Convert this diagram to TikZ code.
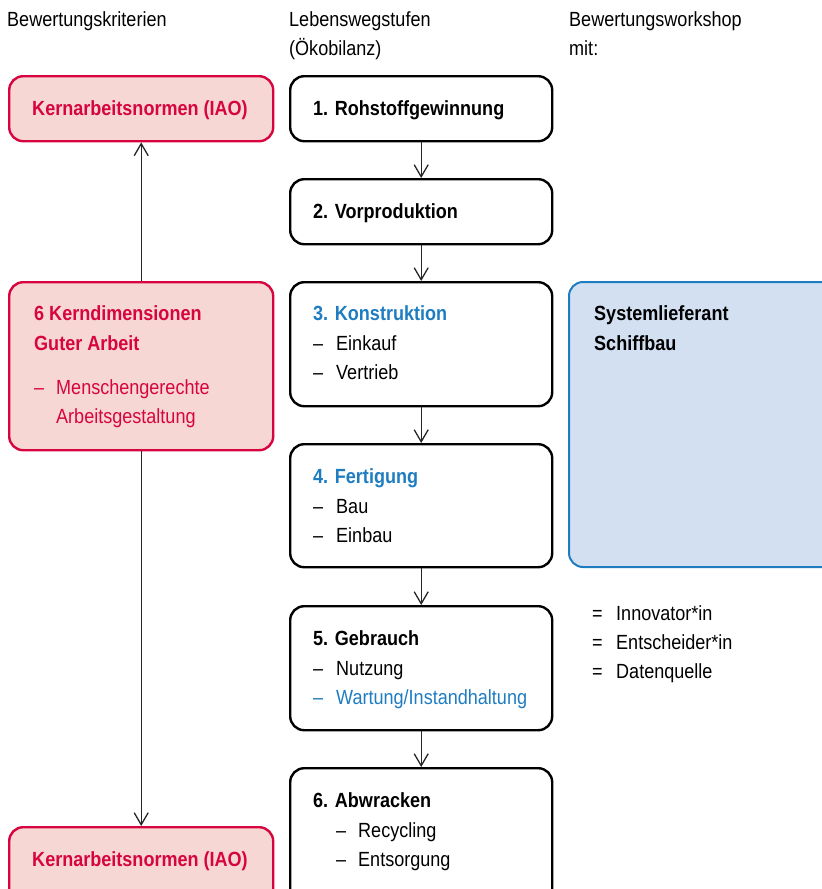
\documentclass[tikz,border=0pt]{standalone}
\usepackage{fontspec}
\setmainfont{Liberation Sans}[FakeStretch=0.88]
\usetikzlibrary{arrows.meta}
\definecolor{kred}{HTML}{D7053F}
\definecolor{kredfill}{HTML}{F6D7D4}
\definecolor{kblue}{HTML}{1E7CC1}
\definecolor{kbluefill}{HTML}{D3E0F2}
\newcommand{\fsz}{\fontsize{20.5}{29.5}\selectfont}
\begin{document}
\begin{tikzpicture}[x=1pt,y=-1pt,
  box/.style={draw=black, line width=2.4pt, rounded corners=14pt, inner sep=0pt,
    anchor=north west, minimum width=262pt},
  redbox/.style={draw=kred, fill=kredfill, line width=2.4pt, rounded corners=14pt,
    inner sep=0pt, anchor=north west, minimum width=264pt},
  bluebox/.style={draw=kblue, fill=kbluefill, line width=2pt, rounded corners=14pt,
    inner sep=0pt, anchor=north west},
  txt/.style={anchor=base west, inner sep=0pt, font=\fsz},
  btxt/.style={anchor=base west, inner sep=0pt, font=\fsz\bfseries},
  arr/.style={draw=black!85, line width=1.3pt, -{Straight Barb[length=12pt,width=14pt,line width=1.3pt]}}
]
\useasboundingbox (0,0) rectangle (822,889);
\clip (0,0) rectangle (822,889);

% headers
\node[txt] (h1) at (7,26) {Bewertungskriterien};
\node[txt] (h2) at (289,26) {Lebenswegstufen};
\node[txt] (h2b) at (289,55.5) {(Ökobilanz)};
\node[txt] (h3) at (569,26) {Bewertungsworkshop};
\node[txt] (h3b) at (569,55.5) {mit:};

% left column
\node[redbox, minimum height=65pt] (lt) at (8,75) {};
\node[btxt, text=kred, anchor=base] (ltt) at (140,115) {Kernarbeitsnormen (IAO)};
\node[redbox, minimum height=168pt] (lm) at (8,281) {};
\node[btxt, text=kred] (lm1) at (34,320) {6 Kerndimensionen};
\node[btxt, text=kred] (lm2) at (34,350) {Guter Arbeit};
\node[txt, text=kred] (lm3d) at (34,394) {–};
\node[txt, text=kred] (lm3) at (56,394) {Menschengerechte};
\node[txt, text=kred] (lm4) at (56,423) {Arbeitsgestaltung};
\node[redbox, minimum height=100pt] (lb) at (8,826) {};
\node[btxt, text=kred, anchor=base] (lbt) at (140,866) {Kernarbeitsnormen (IAO)};

\draw[arr] (lm.north) -- (lt.south);
\draw[arr] (lm.south) -- (lb.north);

% middle column
\node[box, minimum height=65pt] (b1) at (289,75) {};
\node[btxt] (b1t) at (313,115) {1. Rohstoffgewinnung};
\node[box, minimum height=65pt] (b2) at (289,178) {};
\node[btxt] (b2t) at (313,218) {2. Vorproduktion};
\node[box, minimum height=124pt] (b3) at (289,281) {};
\node[btxt, text=kblue] (b3t) at (313,320) {3. Konstruktion};
\node[txt] (b3ad) at (313,350) {–};
\node[txt] (b3a) at (336,350) {Einkauf};
\node[txt] (b3bd) at (313,379) {–};
\node[txt] (b3b) at (336,379) {Vertrieb};
\node[box, minimum height=123pt] (b4) at (289,443) {};
\node[btxt, text=kblue] (b4t) at (313,483) {4. Fertigung};
\node[txt] (b4ad) at (313,513) {–};
\node[txt] (b4a) at (336,513) {Bau};
\node[txt] (b4bd) at (313,542) {–};
\node[txt] (b4b) at (336,542) {Einbau};
\node[box, minimum height=124pt] (b5) at (289,605) {};
\node[btxt] (b5t) at (313,645) {5. Gebrauch};
\node[txt] (b5ad) at (313,675) {–};
\node[txt] (b5a) at (336,675) {Nutzung};
\node[txt, text=kblue] (b5bd) at (313,704) {–};
\node[txt, text=kblue] (b5b) at (336,704) {Wartung/Instandhaltung};
\node[box, minimum height=160pt] (b6) at (289,767) {};
\node[btxt] (b6t) at (313,807) {6. Abwracken};
\node[txt] (b6ad) at (336,837) {–};
\node[txt] (b6a) at (358,837) {Recycling};
\node[txt] (b6bd) at (336,866) {–};
\node[txt] (b6b) at (358,866) {Entsorgung};

\draw[arr] (b1.south) -- (b2.north);
\draw[arr] (b2.south) -- (b3.north);
\draw[arr] (b3.south) -- (b4.north);
\draw[arr] (b4.south) -- (b5.north);
\draw[arr] (b5.south) -- (b6.north);

% right column
\node[bluebox, minimum width=290pt, minimum height=285pt] (rb) at (568,281) {};
\node[btxt] (rb1) at (594,320) {Systemlieferant};
\node[btxt] (rb2) at (594,350) {Schiffbau};

\node[txt] (l1d) at (592,620) {=};
\node[txt] (l1) at (616,620) {Innovator*in};
\node[txt] (l2d) at (592,649) {=};
\node[txt] (l2) at (616,649) {Entscheider*in};
\node[txt] (l3d) at (592,678) {=};
\node[txt] (l3) at (616,678) {Datenquelle};
\end{tikzpicture}
\end{document}
